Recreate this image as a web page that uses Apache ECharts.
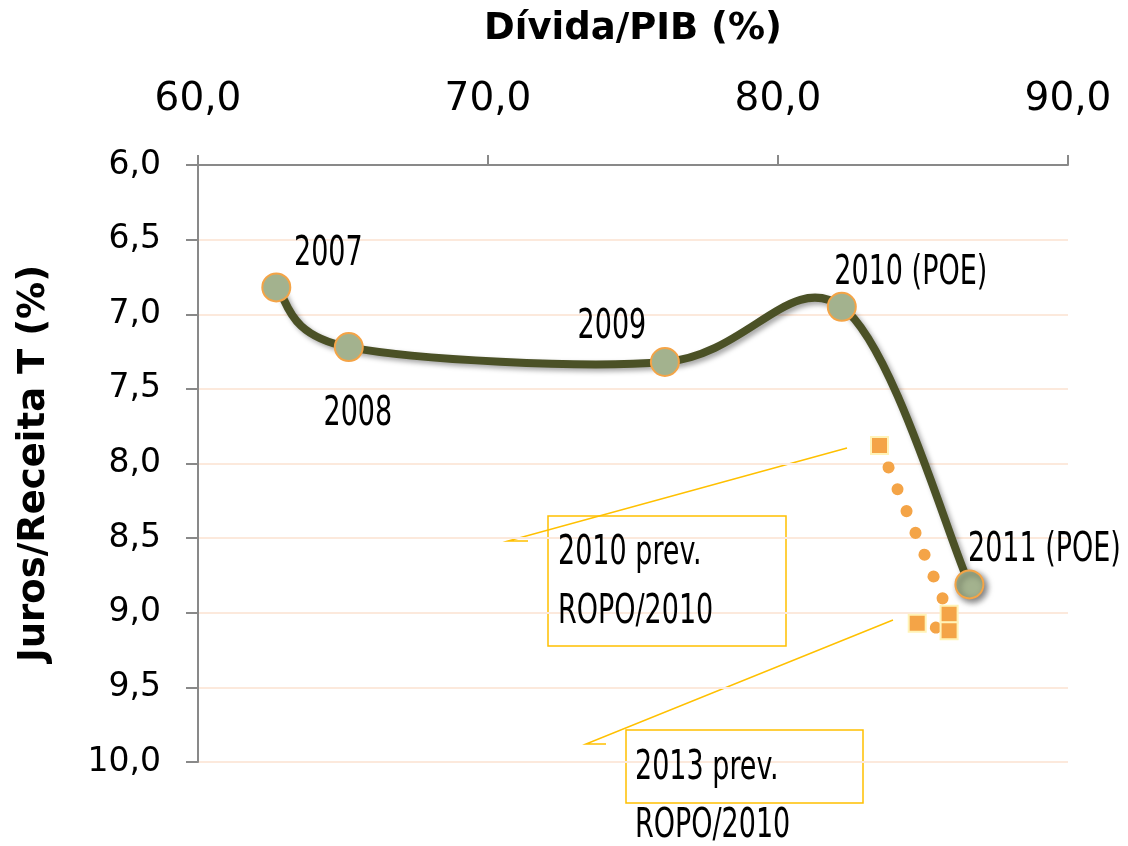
<!DOCTYPE html>
<html>
<head>
<meta charset="utf-8">
<script src="https://cdn.jsdelivr.net/npm/echarts@6/dist/echarts.min.js"></script>
<style>
  html, body { margin: 0; padding: 0; background: #fff; }
  #chart { width: 1128px; height: 846px; }
</style>
</head>
<body>
<div id="chart"></div>
<script>
  // dados da série principal
  const anos = ['2007', '2008', '2009', '2010 (POE)', '2011 (POE)']
  const divida = [62.7, 65.2, 76.1, 82.2, 86.6]
  const juros = [6.82, 7.22, 7.32, 6.95, 8.81]
  // previsões ROPO/2010
  const prevDivida = [83.5, 85.9, 85.9, 84.8]
  const prevJuros = [7.88, 9.01, 9.12, 9.07]
  // rótulos dos eixos
  const xTicks = [60, 70, 80, 90]
  const yTicks = [6, 6.5, 7, 7.5, 8, 8.5, 9, 9.5, 10]

  const narrow = "'DejaVu Sans Condensed', 'DejaVu Sans', sans-serif"
  const labelOffsets = [[52, -33], [9, 67], [-53, -35], [69, -33], [75, -34]]
  const stretch = 1.35
  const fmt = v => v.toFixed(1).replace('.', ',')

  const chart = echarts.init(document.getElementById('chart'))

  const mainPoints = divida.map((x, i) => [x, juros[i]])

  // curva suavizada estilo Excel (Catmull-Rom -> Bezier)
  function renderCurve(params, api) {
    const i = params.dataIndex
    const n = mainPoints.length
    if (i >= n - 1) return null
    const p = k => api.coord(mainPoints[Math.max(0, Math.min(n - 1, k))])
    const p0 = p(i - 1), p1 = p(i), p2 = p(i + 1), p3 = p(i + 2)
    return {
      type: 'bezierCurve',
      shape: {
        x1: p1[0], y1: p1[1],
        cpx1: p1[0] + (p2[0] - p0[0]) / 6, cpy1: p1[1] + (p2[1] - p0[1]) / 6,
        cpx2: p2[0] - (p3[0] - p1[0]) / 6, cpy2: p2[1] - (p3[1] - p1[1]) / 6,
        x2: p2[0], y2: p2[1]
      },
      style: {
        stroke: '#4b5126', lineWidth: 8, fill: null, lineCap: 'round',
        shadowColor: 'rgba(0,0,0,0.35)', shadowBlur: 5, shadowOffsetX: 3, shadowOffsetY: 3
      }
    }
  }

  function renderLabel(params, api) {
    const i = params.dataIndex
    const pt = api.coord(mainPoints[i])
    return {
      type: 'text',
      x: pt[0] + labelOffsets[i][0],
      y: pt[1] + labelOffsets[i][1],
      scaleY: stretch,
      style: {text: anos[i], font: '30px ' + narrow, fill: '#000', align: 'center', verticalAlign: 'middle'}
    }
  }

  function noteText(x, y, txt) {
    return {type: 'text', x: x, y: y, scaleY: stretch, z: 20,
      style: {text: txt, font: '30px ' + narrow, fill: '#000', align: 'left', verticalAlign: 'middle'}}
  }

  let option = {
    animation: false,
    grid: {left: 198, right: 60, top: 165, bottom: 84},
    xAxis: {
      type: 'value',
      position: 'top',
      min: xTicks[0],
      max: xTicks[xTicks.length - 1],
      interval: 10,
      name: 'Dívida/PIB (%)',
      nameLocation: 'middle',
      nameGap: 117,
      nameTextStyle: {fontFamily: 'DejaVu Sans', fontWeight: 'bold', fontSize: 37, color: '#000'},
      axisLine: {show: true, lineStyle: {color: '#898989', width: 2}},
      axisTick: {show: true, length: 10, lineStyle: {color: '#898989', width: 2}},
      axisLabel: {formatter: fmt, fontFamily: 'DejaVu Sans', fontSize: 39, color: '#000', margin: 46},
      splitLine: {show: false}
    },
    yAxis: {
      type: 'value',
      inverse: true,
      min: yTicks[0],
      max: yTicks[yTicks.length - 1],
      interval: 0.5,
      name: 'Juros/Receita T (%)',
      nameLocation: 'middle',
      nameGap: 145,
      nameTextStyle: {fontFamily: 'DejaVu Sans', fontWeight: 'bold', fontSize: 37, color: '#000'},
      axisLine: {show: true, lineStyle: {color: '#898989', width: 2}},
      axisTick: {show: true, length: 12, lineStyle: {color: '#898989', width: 2}},
      axisLabel: {formatter: fmt, fontFamily: 'DejaVu Sans', fontSize: 33, color: '#000', margin: 37},
      splitLine: {show: true, lineStyle: {color: '#fce9dc', width: 2}}
    },
    series: [
      {
        name: 'prev',
        type: 'line',
        data: prevDivida.map((x, i) => [x, prevJuros[i]]),
        symbol: 'rect',
        symbolSize: 17,
        itemStyle: {color: '#f4a447', borderColor: '#fff3b8', borderWidth: 2, opacity: 1},
        lineStyle: {color: '#f4a447', width: 12, type: [0.1, 23.5], cap: 'round'},
        z: 2
      },
      {
        name: 'curva',
        type: 'custom',
        coordinateSystem: 'cartesian2d',
        data: mainPoints,
        encode: {x: 0, y: 1},
        renderItem: renderCurve,
        z: 3
      },
      {
        name: 'main',
        type: 'scatter',
        data: mainPoints.map((v, i) => {
          let item = {value: v}
          if (i == mainPoints.length - 1) {
            item.itemStyle = {shadowColor: 'rgba(0,0,0,0.5)', shadowBlur: 6, shadowOffsetX: 3, shadowOffsetY: 3}
          }
          return item
        }),
        symbol: 'circle',
        symbolSize: 28,
        itemStyle: {color: '#a3b28e', borderColor: '#f4a447', borderWidth: 2, opacity: 1},
        z: 4
      },
      {
        name: 'rotulos',
        type: 'custom',
        coordinateSystem: 'cartesian2d',
        data: mainPoints,
        encode: {x: 0, y: 1},
        renderItem: renderLabel,
        z: 5
      }
    ],
    graphic: [
      {type: 'polyline', shape: {points: [[528, 541], [508, 541], [847, 448]]}, style: {stroke: '#ffc000', lineWidth: 1.5, fill: null}},
      {type: 'rect', shape: {x: 548, y: 516, width: 238, height: 130}, style: {stroke: '#ffc000', lineWidth: 1.5, fill: null}},
      noteText(558, 553, '2010 prev.'),
      noteText(558, 612, 'ROPO/2010'),
      {type: 'polyline', shape: {points: [[606, 744], [586, 744], [893, 620]]}, style: {stroke: '#ffc000', lineWidth: 1.5, fill: null}},
      {type: 'rect', shape: {x: 626, y: 730, width: 237, height: 73}, style: {stroke: '#ffc000', lineWidth: 1.5, fill: null}},
      noteText(635, 768, '2013 prev.'),
      noteText(635, 826, 'ROPO/2010')
    ]
  }
  chart.setOption(option)
</script>
</body>
</html>
